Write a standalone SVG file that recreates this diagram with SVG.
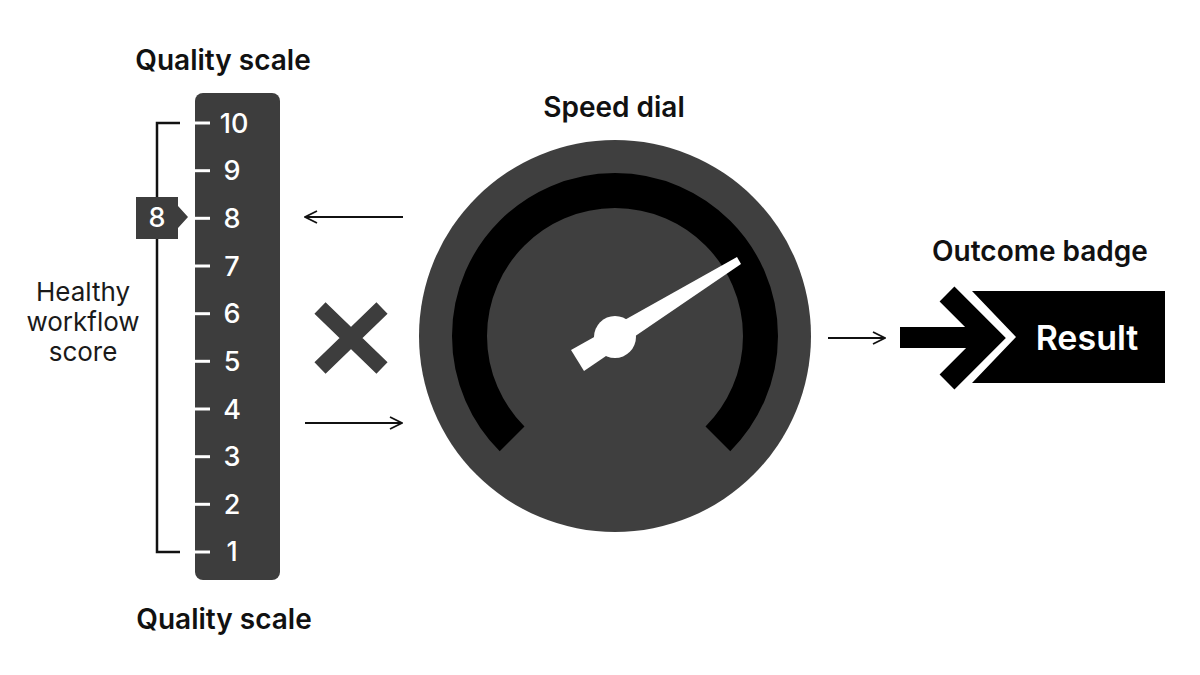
<svg xmlns="http://www.w3.org/2000/svg" width="1200" height="675" viewBox="0 0 1200 675">
<defs>
<style>
.title{font-family:Inter,"Liberation Sans",sans-serif;font-weight:600;font-size:28px;fill:#111;text-anchor:middle}
.num{font-family:Inter,"Liberation Sans",sans-serif;font-weight:500;font-size:27px;fill:#fff;text-anchor:middle}
.lbl{font-family:Inter,"Liberation Sans",sans-serif;font-weight:400;font-size:26px;fill:#1a1a1a;text-anchor:middle}
.tick{stroke:#fff;stroke-width:3}
.conn{stroke:#111;stroke-width:2;fill:none}
</style>
<marker id="ah" viewBox="0 0 14 14" refX="13" refY="7" markerWidth="14" markerHeight="14" markerUnits="userSpaceOnUse" orient="auto">
<path d="M1,1 L13,7 L1,13" fill="none" stroke="#111" stroke-width="1.8"/>
</marker>
</defs>
<rect width="1200" height="675" fill="#fff"/>

<g id="quality-scale">
<text class="title" x="223" y="70">Quality scale</text>
<rect x="195" y="93" width="85" height="487" rx="8" fill="#3d3d3d"/>
<g class="tick">
<line x1="195" y1="123" x2="210" y2="123"/>
<line x1="195" y1="170.7" x2="210" y2="170.7"/>
<line x1="195" y1="218.3" x2="210" y2="218.3"/>
<line x1="195" y1="266" x2="210" y2="266"/>
<line x1="195" y1="313.7" x2="210" y2="313.7"/>
<line x1="195" y1="361.3" x2="210" y2="361.3"/>
<line x1="195" y1="409" x2="210" y2="409"/>
<line x1="195" y1="456.7" x2="210" y2="456.7"/>
<line x1="195" y1="504.3" x2="210" y2="504.3"/>
<line x1="195" y1="552" x2="210" y2="552"/>
</g>
<text class="num" x="234" y="133">10</text>
<text class="num" x="232" y="180">9</text>
<text class="num" x="232" y="228">8</text>
<text class="num" x="232" y="276">7</text>
<text class="num" x="232" y="323">6</text>
<text class="num" x="232" y="371">5</text>
<text class="num" x="232" y="419">4</text>
<text class="num" x="232" y="466">3</text>
<text class="num" x="232" y="514">2</text>
<text class="num" x="232" y="561">1</text>
<text class="title" x="224" y="629">Quality scale</text>
</g>

<g id="bracket">
<path d="M180,123 H157 V552 H180" fill="none" stroke="#111" stroke-width="2.5"/>
</g>

<g id="marker-8">
<path d="M136,197 H178 V206 L188,217 L178,228 V239 H136 Z" fill="#3d3d3d"/>
<text class="num" x="157" y="227">8</text>
</g>

<g id="label-healthy">
<text class="lbl" x="83" y="301">Healthy</text>
<text class="lbl" x="83" y="331">workflow</text>
<text class="lbl" x="83" y="361">score</text>
</g>

<g id="multiply">
<path d="M320,308 L382,368 M382,308 L320,368" stroke="#3d3d3d" stroke-width="16" fill="none"/>
</g>

<g id="speed-dial">
<text class="title" x="614" y="117">Speed dial</text>
<circle cx="615" cy="336" r="196" fill="#3f3f3f"/>
<path d="M512.1,438.9 A145.5,145.5 0 1 1 717.9,438.9" fill="none" stroke="#000" stroke-width="35"/>
<polygon points="571,350 737,257 741,264 584,371" fill="#fff"/>
<circle cx="615" cy="337" r="21" fill="#fff"/>
</g>

<g id="outcome-badge">
<text class="title" x="1040" y="261">Outcome badge</text>
<polygon points="972,291 1165,291 1165,383 972,383 1016,337" fill="#000"/>
<rect x="900" y="327" width="85" height="21" fill="#000"/>
<polyline points="947,294 991,338 947,382" fill="none" stroke="#000" stroke-width="21" stroke-miterlimit="10"/>
<text x="1087" y="350" font-family="Inter,'Liberation Sans',sans-serif" font-weight="600" font-size="34" fill="#fff" text-anchor="middle">Result</text>
</g>

<g id="connectors">
<line class="conn" x1="403" y1="217" x2="305" y2="217" marker-end="url(#ah)"/>
<line class="conn" x1="305" y1="423" x2="402" y2="423" marker-end="url(#ah)"/>
<line class="conn" x1="828" y1="338" x2="885" y2="338" marker-end="url(#ah)"/>
</g>
</svg>
